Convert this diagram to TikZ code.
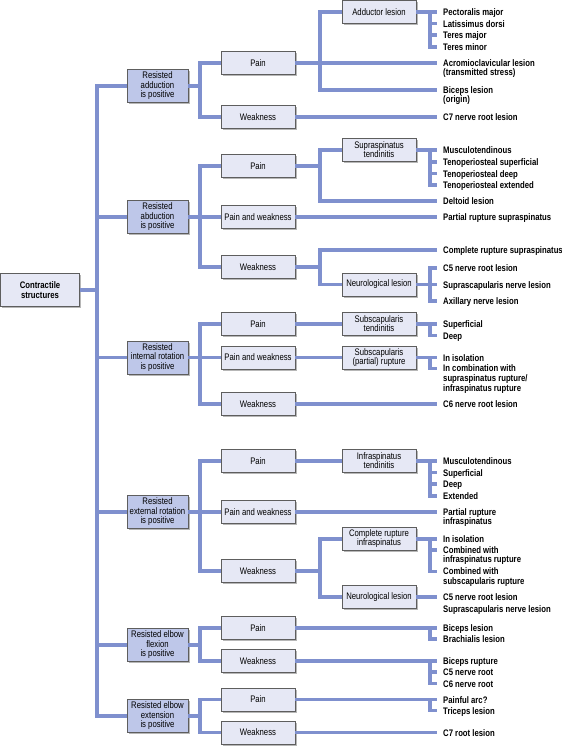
\documentclass[tikz,border=0pt]{standalone}
\usepackage{fontspec}
\newfontfamily\dfont[FakeStretch=0.815]{Liberation Sans}
\usetikzlibrary{shadows,calc}
\definecolor{lineblue}{HTML}{7F90CE}
\definecolor{boxA}{HTML}{BEC7E9}
\definecolor{boxB}{HTML}{E6E8F5}
\definecolor{boxline}{HTML}{5E5E5E}
\newcommand\leafnode[3]{%
  \node[leaf] (#1) at (437,#2-4) {#3};
  \coordinate (#1-t) at ($(#1.north west)+(0,4)$);}
\begin{document}
\begin{tikzpicture}[x=1pt,y=-1pt,
  conn/.style={draw=lineblue,line width=3.2pt},
  box/.style={draw=boxline,line width=0.7pt,fill=boxB,
    font=\dfont\fontsize{9.5}{9}\selectfont,align=center,
    inner xsep=1pt,inner ysep=1pt,minimum width=74pt,minimum height=23pt,
    drop shadow={shadow xshift=1.6pt,shadow yshift=-1.6pt,opacity=0.4,fill=black!70}},
  lvone/.style={box,fill=boxA,minimum width=61pt,minimum height=33pt,
    font=\dfont\fontsize{9.5}{9.5}\selectfont},
  rootbox/.style={box,minimum width=79pt,minimum height=33pt,
    font=\dfont\bfseries\fontsize{9.5}{10}\selectfont},
  leaf/.style={anchor=north west,inner xsep=6pt,inner ysep=0pt,align=left,
    font=\dfont\bfseries\fontsize{9.5}{9.8}\selectfont,
    execute at begin node={\rule{0pt}{7.4pt}}}
]
\useasboundingbox (0,0) rectangle (562,750);

% root
\node[rootbox] (root) at (40,290) {Contractile\\structures};

% level 1
\node[lvone] (add) at (157.5,86) {Resisted\\adduction\\is positive};
\node[lvone] (abd) at (157.5,217) {Resisted\\abduction\\is positive};
\node[lvone] (ir) at (157.5,357.5) {Resisted\\internal rotation\\is positive};
\node[lvone] (er) at (157.5,512) {Resisted\\external rotation\\is positive};
\node[lvone] (ef) at (157.5,645) {Resisted elbow\\flexion\\is positive};
\node[lvone] (ee) at (157.5,716) {Resisted elbow\\extension\\is positive};

% level 2
\node[box] (add-p) at (258,63) {Pain};
\node[box] (add-w) at (258,117) {Weakness};
\node[box] (abd-p) at (258,166) {Pain};
\node[box] (abd-pw) at (258,217) {Pain and weakness};
\node[box] (abd-w) at (258,267) {Weakness};
\node[box] (ir-p) at (258,324) {Pain};
\node[box] (ir-pw) at (258,357.5) {Pain and weakness};
\node[box] (ir-w) at (258,404) {Weakness};
\node[box] (er-p) at (258,461) {Pain};
\node[box] (er-pw) at (258,512) {Pain and weakness};
\node[box] (er-w) at (258,571) {Weakness};
\node[box] (ef-p) at (258,628) {Pain};
\node[box] (ef-w) at (258,661) {Weakness};
\node[box] (ee-p) at (258,699.5) {Pain};
\node[box] (ee-w) at (258,732.5) {Weakness};

% level 3
\node[box] (adl) at (379,12) {Adductor lesion};
\node[box] (sst) at (379,150) {Supraspinatus\\tendinitis};
\node[box] (nl1) at (379,284.5) {Neurological lesion};
\node[box] (sct) at (379,324) {Subscapularis\\tendinitis};
\node[box] (scr) at (379,357.5) {Subscapularis\\(partial) rupture};
\node[box] (ist) at (379,461) {Infraspinatus\\tendinitis};
\node[box] (cri) at (379,539) {Complete rupture\\infraspinatus};
\node[box] (nl2) at (379,597) {Neurological lesion};

% leaves
\leafnode{pm}{12}{Pectoralis major}
\leafnode{ld}{23.5}{Latissimus dorsi}
\leafnode{tma}{35}{Teres major}
\leafnode{tmi}{47}{Teres minor}
\leafnode{acro}{63}{Acromioclavicular lesion\\(transmitted stress)}
\leafnode{bic}{90}{Biceps lesion\\(origin)}
\leafnode{c7}{117}{C7 nerve root lesion}
\leafnode{mus1}{150}{Musculotendinous}
\leafnode{tps}{162}{Tenoperiosteal superficial}
\leafnode{tpd}{173.5}{Tenoperiosteal deep}
\leafnode{tpe}{185}{Tenoperiosteal extended}
\leafnode{del}{201}{Deltoid lesion}
\leafnode{prs}{217}{Partial rupture supraspinatus}
\leafnode{crs}{250}{Complete rupture supraspinatus}
\leafnode{c5a}{268}{C5 nerve root lesion}
\leafnode{ssn1}{284.5}{Suprascapularis nerve lesion}
\leafnode{axn}{301}{Axillary nerve lesion}
\leafnode{sup1}{324}{Superficial}
\leafnode{deep1}{335.5}{Deep}
\leafnode{iso1}{357.5}{In isolation}
\leafnode{comb1}{368.5}{In combination with\\supraspinatus rupture/\\infraspinatus rupture}
\leafnode{c6}{404}{C6 nerve root lesion}
\leafnode{mus2}{461}{Musculotendinous}
\leafnode{sup2}{472.5}{Superficial}
\leafnode{deep2}{484}{Deep}
\leafnode{ext}{496}{Extended}
\leafnode{pri}{512}{Partial rupture\\infraspinatus}
\leafnode{iso2}{539}{In isolation}
\leafnode{comb2}{550}{Combined with\\infraspinatus rupture}
\leafnode{comb3}{571.5}{Combined with\\subscapularis rupture}
\leafnode{c5b}{597}{C5 nerve root lesion}
\leafnode{ssn2}{608.5}{Suprascapularis nerve lesion}
\leafnode{bil}{628}{Biceps lesion}
\leafnode{brl}{639}{Brachialis lesion}
\leafnode{bir}{661}{Biceps rupture}
\leafnode{c5r}{672}{C5 nerve root}
\leafnode{c6r}{683.5}{C6 nerve root}
\leafnode{pa}{699.5}{Painful arc?}
\leafnode{tl}{710.5}{Triceps lesion}
\leafnode{c7r}{732.5}{C7 root lesion}

% junction coordinates
\coordinate (spine) at (97,400);
\coordinate (mx) at (430,0);
\coordinate (jadd) at (200,86);
\coordinate (jabd) at (200,217);
\coordinate (jir) at (200,357.5);
\coordinate (jer) at (200,512);
\coordinate (jef) at (200,645);
\coordinate (jee) at (200,716);
\coordinate (k1) at (320,63);
\coordinate (k2) at (320,166);
\coordinate (k3) at (320,267);
\coordinate (k4) at (320,571);

% spine
\draw[conn] (add.west) -| (spine) |- (ee.west);
\foreach \n in {abd,ir,er,ef} \draw[conn] (\n.west) -- (\n.west -| spine);
\draw[conn] (root.east) -- (root.east -| spine);

% level 1 -> level 2
\draw[conn] (add.east) -- (jadd);
\draw[conn] (add-p.west) -| (jadd) |- (add-w.west);
\draw[conn] (abd.east) -- (abd-pw.west);
\draw[conn] (abd-p.west) -| (jabd) |- (abd-w.west);
\draw[conn] (ir.east) -- (ir-pw.west);
\draw[conn] (ir-p.west) -| (jir) |- (ir-w.west);
\draw[conn] (er.east) -- (er-pw.west);
\draw[conn] (er-p.west) -| (jer) |- (er-w.west);
\draw[conn] (ef.east) -- (jef);
\draw[conn] (ef-p.west) -| (jef) |- (ef-w.west);
\draw[conn] (ee.east) -- (jee);
\draw[conn] (ee-p.west) -| (jee) |- (ee-w.west);

% adduction
\draw[conn] (add-p.east) -- (acro-t);
\draw[conn] (adl.west) -| (k1) |- (bic-t);
\draw[conn] (add-w.east) -- (c7-t);
\draw[conn] (adl.east) -- (pm-t);
\draw[conn] (pm-t -| mx) |- (tmi-t);
\foreach \n in {ld,tma} \draw[conn] (\n-t -| mx) -- (\n-t);

% abduction
\draw[conn] (abd-p.east) -- (k2);
\draw[conn] (sst.west) -| (k2) |- (del-t);
\draw[conn] (sst.east) -- (mus1-t);
\draw[conn] (mus1-t -| mx) |- (tpe-t);
\foreach \n in {tps,tpd} \draw[conn] (\n-t -| mx) -- (\n-t);
\draw[conn] (abd-pw.east) -- (prs-t);
\draw[conn] (abd-w.east) -- (k3);
\draw[conn] (crs-t) -| (k3) |- (nl1.west);
\draw[conn] (nl1.east) -- (ssn1-t);
\draw[conn] (c5a-t) -| (mx |- nl1.east) |- (axn-t);

% internal rotation
\draw[conn] (ir-p.east) -- (sct.west);
\draw[conn] (sct.east) -- (sup1-t);
\draw[conn] (sup1-t -| mx) |- (deep1-t);
\draw[conn] (ir-pw.east) -- (scr.west);
\draw[conn] (scr.east) -- (iso1-t);
\draw[conn] (iso1-t -| mx) |- (comb1-t);
\draw[conn] (ir-w.east) -- (c6-t);

% external rotation
\draw[conn] (er-p.east) -- (ist.west);
\draw[conn] (ist.east) -- (mus2-t);
\draw[conn] (mus2-t -| mx) |- (ext-t);
\foreach \n in {sup2,deep2} \draw[conn] (\n-t -| mx) -- (\n-t);
\draw[conn] (er-pw.east) -- (pri-t);
\draw[conn] (er-w.east) -- (k4);
\draw[conn] (cri.west) -| (k4) |- (nl2.west);
\draw[conn] (cri.east) -- (iso2-t);
\draw[conn] (iso2-t -| mx) |- (comb3-t);
\draw[conn] (comb2-t -| mx) -- (comb2-t);
\draw[conn] (nl2.east) -- (c5b-t);

% elbow flexion
\draw[conn] (ef-p.east) -- (bil-t);
\draw[conn] (bil-t -| mx) |- (brl-t);
\draw[conn] (ef-w.east) -- (bir-t);
\draw[conn] (bir-t -| mx) |- (c6r-t);
\draw[conn] (c5r-t -| mx) -- (c5r-t);

% elbow extension
\draw[conn] (ee-p.east) -- (pa-t);
\draw[conn] (pa-t -| mx) |- (tl-t);
\draw[conn] (ee-w.east) -- (c7r-t);
\end{tikzpicture}
\end{document}
